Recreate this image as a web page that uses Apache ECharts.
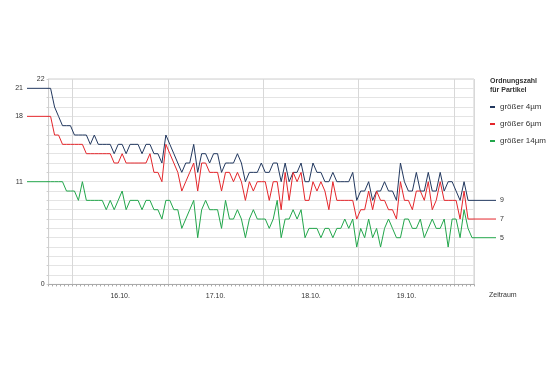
<!DOCTYPE html>
<html>
<head>
<meta charset="utf-8">
<script src="https://cdn.jsdelivr.net/npm/echarts@6/dist/echarts.min.js"></script>
<style>html,body{margin:0;padding:0;background:#fff}#c{width:560px;height:373px}</style>
</head>
<body>
<div id="c"></div>
<script>
// ---- data ----
const seriesNames = ['größer 4µm', 'größer 6µm', 'größer 14µm'];
const dayNames = ['15.10.', '16.10.', '17.10.', '18.10.', '19.10.', '20.10.'];
const startHour = 18;      // first category: 15.10. 18:00
const hourCount = 107;     // hourly categories
const yTickLabels = [0, 22];

const v4 = [21,19,18,17,17,17,16,16,16,16,15,16,15,15,15,15,14,15,15,14,
            15,15,15,14,15,15,14,14,13,16,15,14,13,12,13,13,15,12,14,14,
            13,14,14,12,13,13,13,14,13,11,12,12,12,13,12,12,13,13,11,13,
            11,12,12,13,11,11,13,12,12,11,11,12,11,11,11,11,12,9,10,10,
            11,9,10,10,11,10,10,9,13,11,10,10,12,10,10,12,10,10,12,10,
            11,11,10,9,11,9,9];
const v6 = [18,16,16,15,15,15,15,15,15,14,14,14,14,14,14,14,13,13,14,13,
            13,13,13,13,13,14,12,12,11,15,14,13,12,10,11,12,13,10,13,13,
            12,12,12,10,12,12,11,12,11,9,11,10,11,11,11,9,11,11,8,12,
            9,12,11,12,9,9,11,10,11,10,8,11,9,9,9,9,9,7,8,8,
            10,8,10,9,9,8,8,7,11,9,9,8,10,10,9,11,8,9,11,9,
            9,9,9,7,10,7,7];
const v14 = [11,11,11,11,10,10,10,9,11,9,9,9,9,9,8,9,8,9,10,8,
             9,9,9,8,9,9,8,8,7,9,9,8,8,6,7,8,9,5,8,9,
             8,8,8,6,9,7,7,8,7,5,7,8,7,7,7,6,7,9,5,7,
             7,8,7,8,5,6,6,6,5,6,6,5,6,6,7,6,7,4,6,5,
             7,5,6,4,6,7,6,5,5,7,7,6,6,7,5,6,7,6,6,7,
             4,7,7,5,8,6,5];
const allValues = [v4, v6, v14];

// ---- style / layout ----
const colors = ['#22385f', '#e4262b', '#22a64b'];
const FONT = '"Liberation Sans", Arial, Helvetica, sans-serif';
const TXT = '#333';
const G = { left: 48.6, right: 474, top: 79, bottom: 284.4 };
const EXT = { left: 27, right: 496 };
const bandW = (G.right - G.left) / hourCount;
const extMin = -0.5 - (G.left - EXT.left) / bandW;
const extMax = (hourCount - 0.5) + (EXT.right - G.right) / bandW;

const hours = [];
for (let k = 0; k < hourCount; k++) {
  const t = startHour + k;
  const d = Math.floor(t / 24), h = t % 24;
  hours.push(dayNames[d] + ' ' + String(h).padStart(2, '0') + ':00');
}

const series = [];
allValues.forEach((vals, s) => {
  series.push({
    name: seriesNames[s], type: 'line', xAxisIndex: 0, yAxisIndex: 0,
    data: vals, symbol: 'none', lineStyle: { width: 1, color: colors[s] },
    itemStyle: { color: colors[s] }, animation: false, z: 3
  });
  const first = vals[0], last = vals[vals.length - 1];
  const lbl = { fontSize: 7, color: TXT, fontFamily: FONT, distance: 4 };
  series.push({
    name: 'ext-l-' + s, type: 'line', xAxisIndex: 1, yAxisIndex: 1,
    symbol: 'circle', symbolSize: 0, animation: false, z: 3,
    lineStyle: { width: 1, color: colors[s] }, itemStyle: { color: colors[s] },
    data: [{ value: [extMin, first], label: Object.assign({ show: true, position: 'left' }, lbl) }, [0, first]]
  });
  series.push({
    name: 'ext-r-' + s, type: 'line', xAxisIndex: 1, yAxisIndex: 1,
    symbol: 'circle', symbolSize: 0, animation: false, z: 3,
    lineStyle: { width: 1, color: colors[s] }, itemStyle: { color: colors[s] },
    data: [[hourCount - 1, last], { value: [extMax, last], label: Object.assign({ show: true, position: 'right' }, lbl) }]
  });
});

const chart = echarts.init(document.getElementById('c'), null, { renderer: 'canvas' });
chart.setOption({
  backgroundColor: '#fff',
  animation: false,
  textStyle: { fontFamily: FONT },
  title: [
    { text: 'Ordnungszahl\nfür Partikel', left: 490, top: 77, padding: 0,
      textStyle: { fontSize: 7, fontWeight: 'bold', color: TXT, fontFamily: FONT, lineHeight: 9 } },
    { text: 'Zeitraum', left: 489, top: 292, padding: 0,
      textStyle: { fontSize: 7, fontWeight: 'normal', color: TXT, fontFamily: FONT } }
  ],
  legend: {
    data: seriesNames, orient: 'vertical', left: 490, top: 103, itemGap: 9, padding: 0,
    icon: 'rect', itemWidth: 5, itemHeight: 2,
    textStyle: { fontSize: 8, color: TXT, fontFamily: FONT }
  },
  grid: [
    { left: G.left, top: G.top, width: G.right - G.left, height: G.bottom - G.top,
      show: true, borderColor: '#cfcfcf', borderWidth: 1 },
    { left: EXT.left, top: G.top, width: EXT.right - EXT.left, height: G.bottom - G.top }
  ],
  xAxis: [
    { type: 'category', gridIndex: 0, data: hours, boundaryGap: true,
      axisLine: { lineStyle: { color: '#aaa', width: 1 } },
      axisTick: { show: true, interval: 0, length: 2, lineStyle: { color: '#aaa' } },
      axisLabel: { interval: (i, v) => v.endsWith('12:00'), formatter: v => v.slice(0, 6),
        fontSize: 7, color: TXT, fontFamily: FONT, margin: 8, padding: [0, 4, 0, 0] },
      splitLine: { show: true, interval: (i, v) => v.endsWith('00:00'), lineStyle: { color: '#d8d8d8', width: 1 } } },
    { type: 'value', gridIndex: 1, min: extMin, max: extMax, show: false }
  ],
  yAxis: [
    { type: 'value', gridIndex: 0, min: 0, max: 22, interval: 1,
      axisLine: { show: true, lineStyle: { color: '#cfcfcf' } },
      axisTick: { show: true, length: 2, lineStyle: { color: '#cfcfcf' } },
      axisLabel: { fontSize: 7, color: TXT, fontFamily: FONT, margin: 4,
        formatter: v => yTickLabels.includes(v) ? String(v) : '' },
      splitLine: { lineStyle: { color: '#e4e4e4', width: 1 } } },
    { type: 'value', gridIndex: 1, min: 0, max: 22, show: false }
  ],
  series: series
});
</script>
</body>
</html>
